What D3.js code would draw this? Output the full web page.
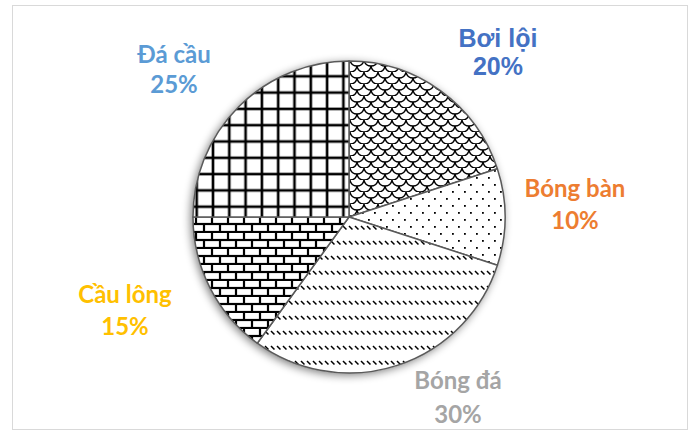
<!DOCTYPE html>
<html>
<head>
<meta charset="utf-8">
<script src="https://cdn.jsdelivr.net/npm/d3@7"></script>
<style>
  body { margin: 0; background: #fff; }
  svg { display: block; }
</style>
</head>
<body>
<svg id="chart" width="692" height="430"></svg>
<script>
// Sports share (%)
const categories = ["Bơi lội", "Bóng bàn", "Bóng đá", "Cầu lông", "Đá cầu"];
const percentages = [20, 10, 30, 15, 25];
const labelColors = ["#4472C4", "#ED7D31", "#A5A5A5", "#FFC000", "#5B9BD5"];
const fillPatterns = ["shingle", "dots", "dashes", "brick", "grid"];

const W = 692, H = 430;
const cx = 349, cy = 217, R = 156;

const svg = d3.select("#chart");
const defs = svg.append("defs");

// Soft glow-like shadow under the pie
const shadow = defs.append("filter").attr("id", "pieShadow")
  .attr("x", "-20%").attr("y", "-20%").attr("width", "140%").attr("height", "140%");
shadow.append("feGaussianBlur").attr("in", "SourceAlpha").attr("stdDeviation", 5).attr("result", "b");
shadow.append("feOffset").attr("in", "b").attr("dx", -2).attr("dy", 2).attr("result", "o");
shadow.append("feComponentTransfer").attr("in", "o").attr("result", "s")
  .append("feFuncA").attr("type", "linear").attr("slope", 0.55);
const merge = shadow.append("feMerge");
merge.append("feMergeNode").attr("in", "s");
merge.append("feMergeNode").attr("in", "SourceGraphic");

// Fill patterns (tiles laid out in page coordinates)
function pattern(id, w, h, x0, y0) {
  const p = defs.append("pattern").attr("id", id)
    .attr("patternUnits", "userSpaceOnUse")
    .attr("x", x0 || 0).attr("y", y0 || 0)
    .attr("width", w).attr("height", h)
    .attr("patternTransform", `translate(${-cx},${-cy})`);
  p.append("rect").attr("width", w).attr("height", h).attr("fill", "#fff");
  return p;
}

// shingle / scales
{
  const p = pattern("shingle", 14, 12, 0, 0);
  const g = p.append("g").attr("fill", "none").attr("stroke", "#000").attr("stroke-width", 1.4);
  g.append("path").attr("d", "M0,0 Q1,6 7,6 Q13,6 14,0");
  g.append("path").attr("d", "M-7,6 Q-6,12 0,12 Q6,12 7,6");
  g.append("path").attr("d", "M7,6 Q8,12 14,12 Q20,12 21,6");
}
// sparse dots
{
  const p = pattern("dots", 12, 14, 0, 0);
  p.append("rect").attr("x", 2).attr("y", 2).attr("width", 1.8).attr("height", 1.8).attr("fill", "#000");
  p.append("rect").attr("x", 8).attr("y", 9).attr("width", 1.8).attr("height", 1.8).attr("fill", "#000");
}
// dashed downward diagonal
{
  const p = pattern("dashes", 6, 15, 0, 0);
  p.append("line").attr("x1", 1).attr("y1", 1).attr("x2", 4.5).attr("y2", 4.5)
    .attr("stroke", "#000").attr("stroke-width", 1.5);
}
// brick
{
  const p = pattern("brick", 16, 16, 0, 217);
  const g = p.append("g").attr("stroke", "#000").attr("stroke-width", 2.2);
  g.append("line").attr("x1", 0).attr("x2", 16).attr("y1", 7).attr("y2", 7);
  g.append("line").attr("x1", 0).attr("x2", 16).attr("y1", 15).attr("y2", 15);
  g.append("line").attr("x1", 4).attr("x2", 4).attr("y1", 0).attr("y2", 7);
  g.append("line").attr("x1", 12).attr("x2", 12).attr("y1", 7).attr("y2", 15);
}
// grid
{
  const p = pattern("grid", 16.3, 16.3, 196.7, 76.3);
  const g = p.append("g").attr("stroke", "#000").attr("stroke-width", 2.6);
  g.append("line").attr("x1", -1).attr("x2", 17.3).attr("y1", 0).attr("y2", 0);
  g.append("line").attr("x1", -1).attr("x2", 17.3).attr("y1", 16.3).attr("y2", 16.3);
  g.append("line").attr("x1", 0).attr("x2", 0).attr("y1", -1).attr("y2", 17.3);
  g.append("line").attr("x1", 16.3).attr("x2", 16.3).attr("y1", -1).attr("y2", 17.3);
}

// Chart area frame
svg.append("rect").attr("x", 12.5).attr("y", 5.5).attr("width", 675).attr("height", 424)
  .attr("fill", "#fff").attr("stroke", "#d9d9d9").attr("stroke-width", 1);

const pie = d3.pie().sort(null).value(d => d)(percentages);
const arc = d3.arc().innerRadius(0).outerRadius(R);

const gPie = svg.append("g").attr("transform", `translate(${cx},${cy})`);
gPie.append("circle").attr("r", R).attr("fill", "#fff").attr("filter", "url(#pieShadow)");

gPie.selectAll("path.slice").data(pie).join("path")
  .attr("class", "slice")
  .attr("d", arc)
  .attr("fill", (d, i) => `url(#${fillPatterns[i]})`)
  .attr("stroke", "#595959").attr("stroke-width", 1.5).attr("stroke-linejoin", "round");

// Data labels: name on first line, percentage below
const labelLayout = [
  { x: 498, y1: 47, y2: 75, font: "'Liberation Sans', Arial, sans-serif", size: 25 },
  { x: 575, y1: 197, y2: 229, font: "Lato, 'Open Sans', sans-serif", size: 24 },
  { x: 458, y1: 389, y2: 423, font: "Lato, 'Open Sans', sans-serif", size: 24 },
  { x: 125, y1: 303, y2: 335, font: "Lato, 'Open Sans', sans-serif", size: 24 },
  { x: 174, y1: 63, y2: 93, font: "Lato, 'Open Sans', sans-serif", size: 24 }
];

const gLab = svg.append("g");
categories.forEach((name, i) => {
  const L = labelLayout[i];
  const t = gLab.append("text")
    .attr("text-anchor", "middle")
    .attr("font-family", L.font)
    .attr("font-weight", "bold")
    .attr("font-size", L.size)
    .attr("fill", labelColors[i]);
  t.append("tspan").attr("x", L.x).attr("y", L.y1).text(name);
  t.append("tspan").attr("x", L.x).attr("y", L.y2).text(percentages[i] + "%");
});
</script>
</body>
</html>
